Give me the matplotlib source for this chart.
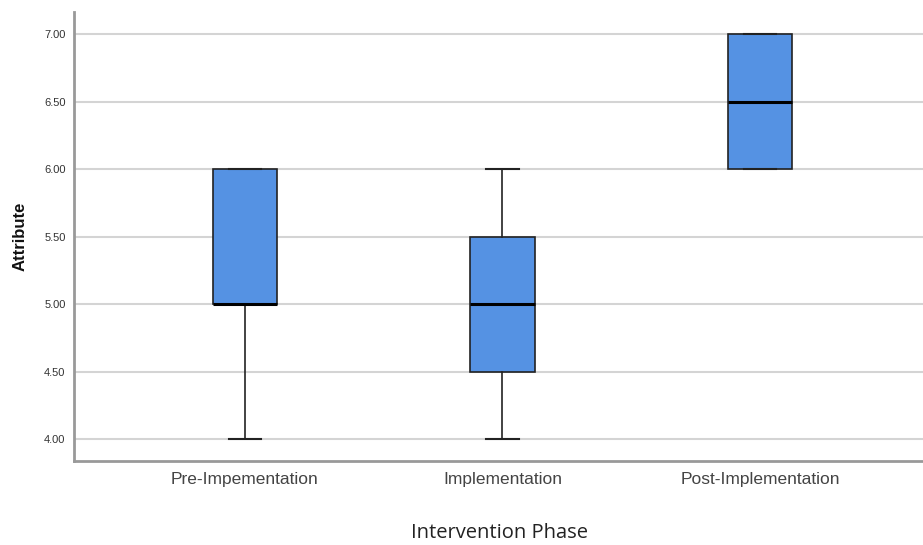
import matplotlib.pyplot as plt

phases = ["Pre-Impementation", "Implementation", "Post-Implementation"]
whisk_low = [4.0, 4.0, 6.0]
q1 = [5.0, 4.5, 6.0]
medians = [5.0, 5.0, 6.5]
q3 = [6.0, 5.5, 7.0]
whisk_high = [6.0, 6.0, 7.0]
yticks = [4.0, 4.5, 5.0, 5.5, 6.0, 6.5, 7.0]

plt.rcParams["font.family"] = ["Liberation Sans", "DejaVu Sans"]

stats = []
for i in range(len(phases)):
    stats.append({"label": phases[i], "whislo": whisk_low[i], "q1": q1[i],
                  "med": medians[i], "q3": q3[i], "whishi": whisk_high[i]})

fig = plt.figure(figsize=(9.23, 5.45), dpi=100)
ax = fig.add_axes([0.080, 0.154, 0.92, 0.824])

ax.bxp(stats, positions=range(len(phases)), widths=0.25, showfliers=False,
       patch_artist=True,
       boxprops=dict(facecolor="#5592e3", edgecolor="#222222", linewidth=1.2),
       medianprops=dict(color="black", linewidth=2.2),
       whiskerprops=dict(color="#222222", linewidth=1.2),
       capprops=dict(color="#222222", linewidth=1.5),
       capwidths=0.125, zorder=3)

ax.set_xlim(-0.664, 2.633)
ax.set_ylim(3.837, 7.163)
ax.set_yticks(yticks)
ax.set_yticklabels([f"{v:.2f}" for v in yticks], fontsize=8, color="#333333")
ax.set_xticks(range(len(phases)))
ax.set_xticklabels(phases, fontsize=12.5, color="#444444")
ax.tick_params(axis="both", length=0)
ax.tick_params(axis="y", pad=6)
ax.tick_params(axis="x", pad=8)
ax.yaxis.grid(True, color="#d4d4d4", linewidth=1.5, zorder=0)
ax.set_axisbelow(True)
for s in ["top", "right"]:
    ax.spines[s].set_visible(False)
for s in ["left", "bottom"]:
    ax.spines[s].set_color("#999999")
    ax.spines[s].set_linewidth(2)

fig.text(0.022, 0.567, "Attribute", rotation=90, fontsize=12, fontweight="bold",
         ha="center", va="center", color="#111111")
fig.text(0.541, 0.022, "Intervention Phase", fontsize=14.5, ha="center",
         va="center", color="#222222", family=["Open Sans", "DejaVu Sans"])

fig.savefig("out.png", dpi=100)
